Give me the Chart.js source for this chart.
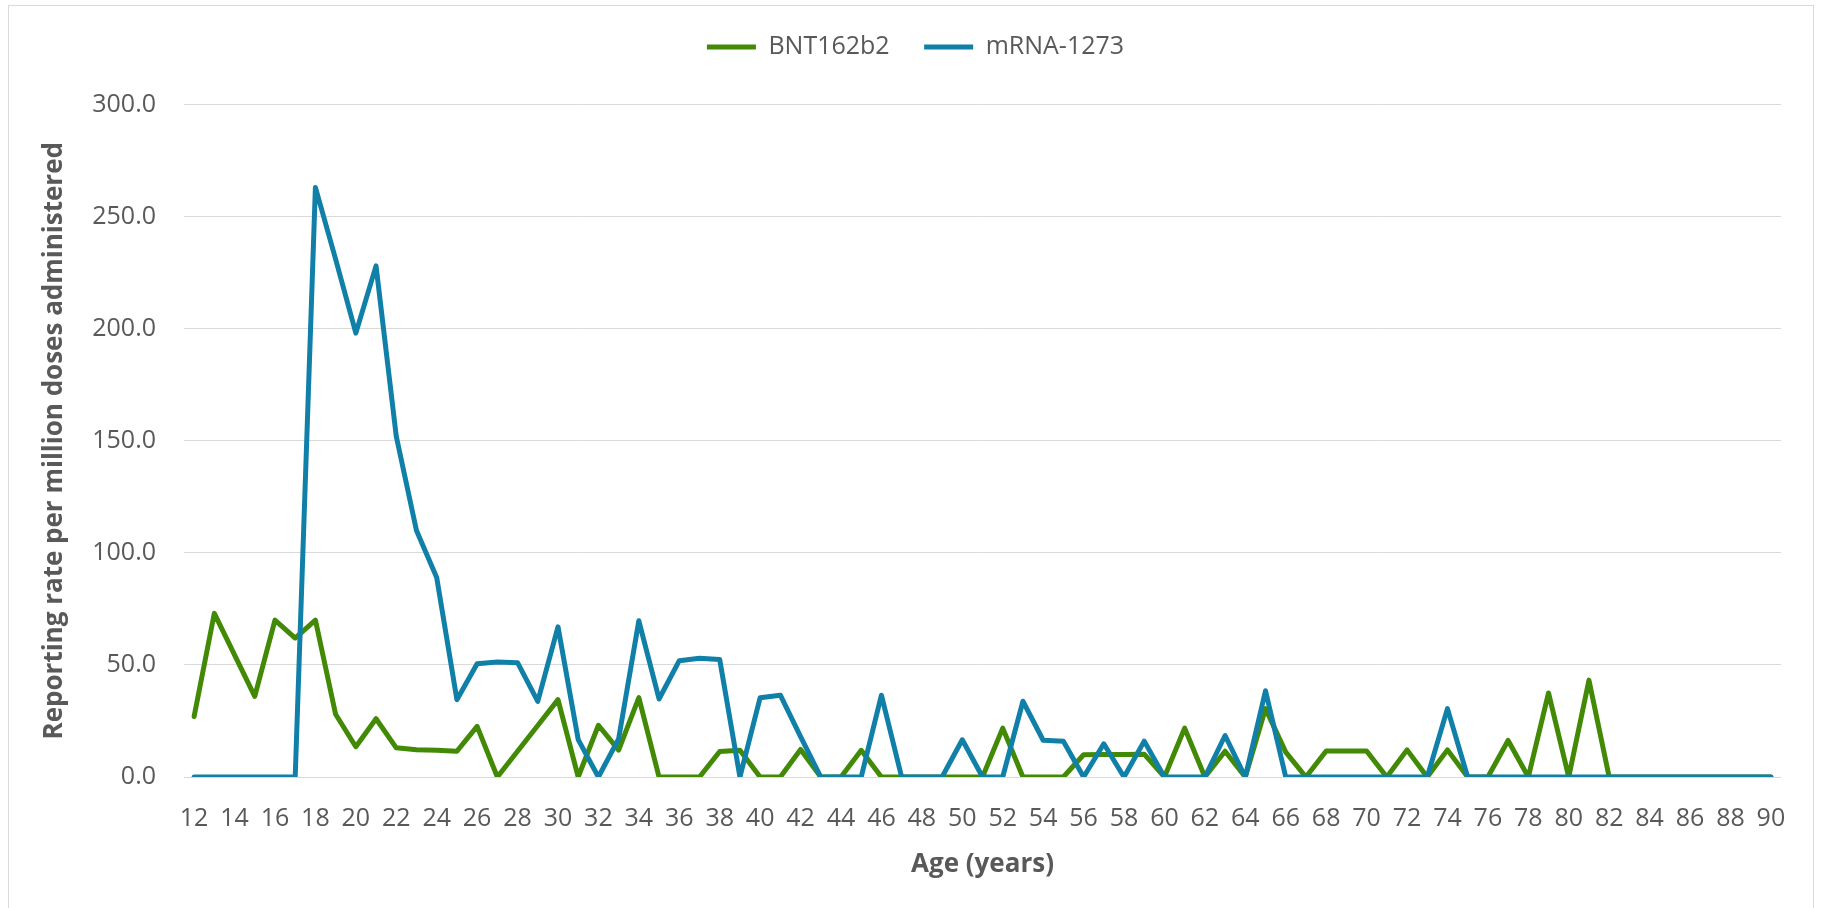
<!DOCTYPE html>
<html>
<head>
<meta charset="utf-8">
<title>Reporting rate by age</title>
<script src="https://cdn.jsdelivr.net/npm/chart.js@4"></script>
<style>
  html, body { margin: 0; padding: 0; background: #fff; overflow: hidden; }
  #frame { position: absolute; left: 8px; top: 5px; width: 1806px; height: 920px;
           border: 1.5px solid #d9d9d9; box-sizing: border-box; }
  #wrap { position: absolute; left: 0; top: 0; width: 1821px; height: 908px; }
</style>
</head>
<body>
<div id="frame"></div>
<div id="wrap"><canvas id="chart"></canvas></div>
<script>
// ages on the x axis
const ages = [12,13,14,15,16,17,18,19,20,21,22,23,24,25,26,27,28,29,30,31,32,33,34,35,36,37,38,39,40,
  41,42,43,44,45,46,47,48,49,50,51,52,53,54,55,56,57,58,59,60,61,62,63,64,65,66,67,68,69,70,
  71,72,73,74,75,76,77,78,79,80,81,82,83,84,85,86,87,88,89,90];

// BNT162b2 reporting rate per million doses
const bnt = [27,73,54.5,36,70,62,70,28,13.5,26,13,12.2,11.9,11.5,22.6,0,11.5,23,34.5,0,
  23.1,12,35.4,0,0,0,11.4,11.9,0,0,12.3,0,0,11.9,0,0,0,0,0,0,
  21.8,0,0,0,9.9,10,10,10.2,0,21.8,0,11.5,0,30.5,11.1,0,11.6,11.6,11.6,0,
  12.1,0,12.1,0,0,16.3,0,37.5,0,43.2,0,0,0,0,0,0,0,0,0];

// mRNA-1273 reporting rate per million doses
const mrna = [0,0,0,0,0,0,263,231,198,228,152,110,89,34.5,50.5,51.3,51,33.7,67,16.7,
  0,17,69.7,34.8,51.9,53,52.4,0,35.4,36.5,18,0,0,0,36.5,0,0,0,16.6,0,
  0,33.8,16.4,15.9,0,14.8,0,16,0,0,0,18.5,0,38.5,0,0,0,0,0,0,
  0,0,30.5,0,0,0,0,0,0,0,0,0,0,0,0,0,0,0,0];

const yTicks = [0, 50, 100, 150, 200, 250, 300];

const green = '#428a05';
const blue = '#1180a8';
const grey = '#595959';

Chart.defaults.font.family = "'Open Sans', sans-serif";
Chart.defaults.color = grey;

// push the plot area down below the legend, and nudge the legend right a bit
const legendGap = {
  id: 'legendGap',
  beforeInit(chart) {
    const lg = chart.legend;
    const fit = lg.fit;
    lg.fit = function () {
      fit.call(this);
      this.height += 35;
    };
    const draw = lg.draw;
    lg.draw = function () {
      this.ctx.save();
      this.ctx.translate(20, 0);
      draw.call(this);
      this.ctx.restore();
    };
  }
};

const lineStyle = {
  borderWidth: 5,
  pointRadius: 0,
  pointHoverRadius: 0,
  tension: 0,
  fill: false,
  borderJoinStyle: 'round',
  borderCapStyle: 'round'
};

new Chart(document.getElementById('chart').getContext('2d'), {
  type: 'line',
  data: {
    labels: ages,
    datasets: [
      { label: 'BNT162b2', data: bnt, borderColor: green, backgroundColor: green, order: 1, ...lineStyle },
      { label: 'mRNA-1273', data: mrna, borderColor: blue, backgroundColor: blue, order: 0, ...lineStyle }
    ]
  },
  plugins: [legendGap],
  options: {
    responsive: true,
    maintainAspectRatio: false,
    animation: false,
    layout: { padding: { top: 0, left: 10, right: 40, bottom: 0 } },
    plugins: {
      legend: {
        position: 'top',
        labels: {
          usePointStyle: true,
          pointStyle: 'line',
          pointStyleWidth: 49,
          padding: 34.5,
          font: { size: 25 },
          color: grey,
          sort: (a, b) => a.datasetIndex - b.datasetIndex
        }
      },
      tooltip: { enabled: false }
    },
    scales: {
      x: {
        type: 'category',
        offset: true,
        grid: { display: false },
        border: { display: false },
        ticks: {
          autoSkip: false,
          maxRotation: 0,
          minRotation: 0,
          padding: 18.6,
          font: { size: 25 },
          callback: (v, i) => (i % 2 === 0 ? ages[i] : '')
        },
        title: {
          display: true,
          text: 'Age (years)',
          font: { size: 26, weight: 'bold' },
          padding: { top: 0, bottom: 28 }
        },
        afterFit: s => { s.height = 131; }
      },
      y: {
        min: 0,
        max: 300,
        afterBuildTicks: s => { s.ticks = yTicks.map(v => ({ value: v })); },
        grid: { color: '#d9d9d9', lineWidth: 1, drawTicks: false },
        border: { display: false },
        ticks: {
          padding: 28,
          font: { size: 25 },
          callback: v => Number(v).toFixed(1)
        },
        title: {
          display: true,
          text: 'Reporting rate per million doses administered',
          font: { size: 26, weight: 'bold' },
          padding: { top: 29, bottom: 0 }
        },
        afterFit: s => { s.width = 174; }
      }
    }
  }
});
</script>
</body>
</html>
